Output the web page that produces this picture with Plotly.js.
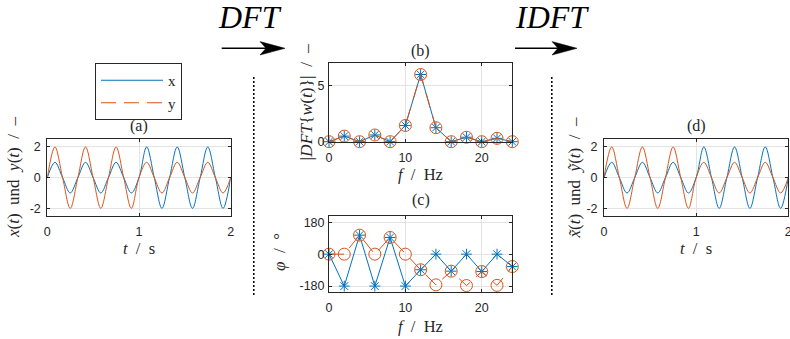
<!DOCTYPE html>
<html>
<head>
<meta charset="utf-8">
<script src="https://cdn.plot.ly/plotly-3.0.1.min.js"></script>
<style>
html,body{margin:0;padding:0;background:#ffffff;}
#chart{width:790px;height:339px;}
</style>
</head>
<body>
<div id="chart"></div>
<script>
// ---------- data ----------
// time samples (s) at quarter periods of the 3 Hz signals
const timeS = [0, 0.0833, 0.1667, 0.25, 0.3333, 0.4167, 0.5, 0.5833, 0.6667, 0.75, 0.8333, 0.9167,
               1, 1.0833, 1.1667, 1.25, 1.3333, 1.4167, 1.5, 1.5833, 1.6667, 1.75, 1.8333, 1.9167, 2];
const xSignal = [0, 1, 0, -1, 0, 1, 0, -1, 0, 1, 0, -1,
                 0, 2, 0, -2, 0, 2, 0, -2, 0, 2, 0, -2, 0];
const ySignal = [0, 2, 0, -2, 0, 2, 0, -2, 0, 2, 0, -2,
                 0, 1, 0, -1, 0, 1, 0, -1, 0, 1, 0, -1, 0];
// reconstructed signals (IDFT) - identical to the originals in the picture
const xTilde = [0, 1, 0, -1, 0, 1, 0, -1, 0, 1, 0, -1,
                0, 2, 0, -2, 0, 2, 0, -2, 0, 2, 0, -2, 0];
const yTilde = [0, 2, 0, -2, 0, 2, 0, -2, 0, 2, 0, -2,
                0, 1, 0, -1, 0, 1, 0, -1, 0, 1, 0, -1, 0];

const freqHz = [0, 2, 4, 6, 8, 10, 12, 14, 16, 18, 20, 22, 24];
const magX   = [0, 0.5, 0, 0.6, 0, 1.45, 6.0, 1.25, 0, 0.4, 0, 0.3, 0];
const magY   = [0, 0.5, 0, 0.6, 0, 1.45, 6.0, 1.25, 0, 0.4, 0, 0.3, 0];
const phaseX = [0, -180, 107, -180, 94, -180, -88, 0, -96, 0, -98, 0, -70];
const phaseY = [0, 0, 107, 0, 94, 0, -88, -173, -96, -177, -98, -176, -70];

const seriesNames = ['x', 'y'];
const timeTicks = [0, 1, 2];
const sigTickVals = [-2, 0, 2];
const sigTickText = ['-2', '0', '2'];
const freqTicks = [0, 10, 20];
const magTicks = [0, 5];
const phaseTickVals = [-180, 0, 180];
const phaseTickText = ['-180', '0', '180'];

// ---------- styling / layout ----------
const W = 790, H = 339;
const px = v => v / W;
const py = v => 1 - v / H;
const BLUE = '#0072BD', ORANGE = '#D95319';
const SERIF = 'Liberation Serif';
const SANS = 'Liberation Sans, Arial, sans-serif';
const NB = '\u00a0';

const box = {
  a: {x0: 47.3, x1: 230.7, y0: 139.3, y1: 216},
  b: {x0: 329, x1: 512.3, y0: 63.3, y1: 141.7},
  c: {x0: 329, x1: 512.3, y0: 216, y1: 292.3},
  d: {x0: 604, x1: 788.3, y0: 139.3, y1: 216}
};

function axisBase(extra) {
  return Object.assign({
    showline: true, mirror: 'ticks', linecolor: '#262626', linewidth: 1,
    showgrid: true, gridcolor: '#e3e3e3', gridwidth: 1,
    ticks: 'inside', ticklen: 3, tickcolor: '#262626', tickwidth: 1,
    zeroline: false, fixedrange: true, ticklabeloverflow: 'allow',
    tickfont: {family: SANS, size: 12.5, color: '#262626'}
  }, extra);
}
function xdom(b) { return [px(b.x0), px(b.x1)]; }
function ydom(b) { return [py(b.y1), py(b.y0)]; }

const traces = [
  // (a) original signals
  {x: timeS, y: xSignal, xaxis: 'x', yaxis: 'y', mode: 'lines', name: seriesNames[0],
   line: {color: BLUE, width: 1, shape: 'spline'}, showlegend: false},
  {x: timeS, y: ySignal, xaxis: 'x', yaxis: 'y', mode: 'lines', name: seriesNames[1],
   line: {color: ORANGE, width: 1, shape: 'spline'}, showlegend: false},
  // (b) magnitude
  {x: freqHz, y: magX, xaxis: 'x2', yaxis: 'y2', mode: 'lines', name: seriesNames[0],
   line: {color: BLUE, width: 1}, showlegend: true, legendrank: 1},
  {x: freqHz, y: magX, xaxis: 'x2', yaxis: 'y2', mode: 'markers', name: seriesNames[0],
   marker: {symbol: 'asterisk-open', size: 9, color: BLUE, line: {width: 1, color: BLUE}},
   showlegend: false, cliponaxis: false},
  {x: freqHz, y: magY, xaxis: 'x2', yaxis: 'y2', mode: 'lines', name: seriesNames[1],
   line: {color: ORANGE, width: 1, dash: '15px,8px'}, showlegend: true, legendrank: 2},
  {x: freqHz, y: magY, xaxis: 'x2', yaxis: 'y2', mode: 'markers', name: seriesNames[1],
   marker: {symbol: 'circle-open', size: 12, color: ORANGE, line: {width: 1, color: ORANGE}},
   showlegend: false, cliponaxis: false},
  // (c) phase
  {x: freqHz, y: phaseX, xaxis: 'x3', yaxis: 'y3', mode: 'lines+markers', name: seriesNames[0],
   line: {color: BLUE, width: 1},
   marker: {symbol: 'asterisk-open', size: 9, color: BLUE, line: {width: 1, color: BLUE}},
   showlegend: false, cliponaxis: false},
  {x: freqHz, y: phaseY, xaxis: 'x3', yaxis: 'y3', mode: 'lines+markers', name: seriesNames[1],
   line: {color: ORANGE, width: 1, dash: '15px,8px'},
   marker: {symbol: 'circle-open', size: 12, color: ORANGE, line: {width: 1, color: ORANGE}},
   showlegend: false, cliponaxis: false},
  // (d) reconstructed signals
  {x: timeS, y: xTilde, xaxis: 'x4', yaxis: 'y4', mode: 'lines', name: seriesNames[0],
   line: {color: BLUE, width: 1, shape: 'spline'}, showlegend: false},
  {x: timeS, y: yTilde, xaxis: 'x4', yaxis: 'y4', mode: 'lines', name: seriesNames[1],
   line: {color: ORANGE, width: 1, shape: 'spline'}, showlegend: false}
];

function ann(text, x, y, size, extra) {
  return Object.assign({
    text: text, xref: 'paper', yref: 'paper', x: px(x), y: py(y),
    xanchor: 'center', yanchor: 'middle', showarrow: false,
    font: {family: SERIF, size: size, color: '#262626'}
  }, extra || {});
}
const sp = NB + NB;
const annotations = [
  ann('(a)', 138.5, 126, 16),
  ann('(b)', 420.6, 51.5, 16),
  ann('(c)', 420.6, 200, 16),
  ann('(d)', 696, 126, 16),
  ann('<i>t</i>' + sp + '/' + sp + 's', 139, 248.5, 16.5),
  ann('<i>t</i>' + sp + '/' + sp + 's', 696, 248.5, 16.5),
  ann('<i>f</i>' + sp + '/' + sp + 'Hz', 420.6, 175, 16.5),
  ann('<i>f</i>' + sp + '/' + sp + 'Hz', 420.6, 326.5, 16.5),
  ann('<i>x</i>(<i>t</i>)' + sp + 'und' + sp + '<i>y</i>(<i>t</i>)' + sp + '/' + sp + '\u2013', 13, 178, 17, {textangle: -90}),
  ann('<i>x\u0303</i>(<i>t</i>)' + sp + 'und' + sp + '<i>y\u0303</i>(<i>t</i>)' + sp + '/' + sp + '\u2013', 573.5, 178, 17, {textangle: -90}),
  ann('|<i>DFT</i>{<i>w</i>(<i>t</i>)}|' + sp + '/' + sp + '\u2013', 305, 102.5, 17.5, {textangle: -90}),
  ann('<i>\u03c6</i>' + sp + '/' + sp + '\u00b0', 279, 252, 17, {textangle: -90}),
  ann('<i>DFT</i>', 249.5, 17, 32, {font: {family: SERIF, size: 32, color: '#000000'}}),
  ann('<i>IDFT</i>', 551.5, 17, 32, {font: {family: SERIF, size: 32, color: '#000000'}})
];

function arrowShapes(x0, x1, y) {
  const L = 25, hw = 6.7, notch = 6;
  const tipX = px(x1), tipY = py(y);
  const backX = px(x1 - L), notchX = px(x1 - L + notch);
  return [
    {type: 'line', xref: 'paper', yref: 'paper', x0: px(x0), x1: px(x1 - L + notch + 1), y0: tipY, y1: tipY,
     line: {color: '#000000', width: 1.6}},
    {type: 'path', xref: 'paper', yref: 'paper',
     path: 'M' + tipX + ',' + tipY + ' L' + backX + ',' + py(y - hw) + ' L' + notchX + ',' + tipY +
           ' L' + backX + ',' + py(y + hw) + ' Z',
     fillcolor: '#000000', line: {color: '#000000', width: 0.5}}
  ];
}
const shapes = [].concat(
  arrowShapes(221.7, 285, 48.3),
  arrowShapes(515, 577, 48.3),
  [
    {type: 'line', xref: 'paper', yref: 'paper', x0: px(253.8), x1: px(253.8), y0: py(77), y1: py(296),
     line: {color: '#000000', width: 1.5, dash: '2px,2px'}},
    {type: 'line', xref: 'paper', yref: 'paper', x0: px(551.8), x1: px(551.8), y0: py(77), y1: py(296),
     line: {color: '#000000', width: 1.5, dash: '2px,2px'}}
  ]
);

const layout = {
  width: W, height: H, autosize: false,
  margin: {l: 0, r: 0, t: 0, b: 0, pad: 0},
  paper_bgcolor: '#ffffff', plot_bgcolor: '#ffffff',
  showlegend: true,
  legend: {
    x: px(95), y: py(63), xanchor: 'left', yanchor: 'top',
    bgcolor: '#ffffff', bordercolor: '#262626', borderwidth: 1,
    font: {family: SERIF, size: 15, color: '#262626'},
    itemwidth: 62, tracegroupgap: 0, traceorder: 'normal'
  },
  xaxis: axisBase({domain: xdom(box.a), anchor: 'y', range: [0, 2], tickmode: 'array', tickvals: timeTicks, ticklabelstandoff: 4}),
  yaxis: axisBase({domain: ydom(box.a), anchor: 'x', range: [-2.5, 2.5], tickmode: 'array', tickvals: sigTickVals, ticktext: sigTickText, ticklabelstandoff: 3}),
  xaxis2: axisBase({domain: xdom(box.b), anchor: 'y2', range: [0, 24], tickmode: 'array', tickvals: freqTicks, ticklabelstandoff: 4}),
  yaxis2: axisBase({domain: ydom(box.b), anchor: 'x2', range: [0, 7], tickmode: 'array', tickvals: magTicks, ticklabelstandoff: 1}),
  xaxis3: axisBase({domain: xdom(box.c), anchor: 'y3', range: [0, 24], tickmode: 'array', tickvals: freqTicks, ticklabelstandoff: 4}),
  yaxis3: axisBase({domain: ydom(box.c), anchor: 'x3', range: [-215, 215], tickmode: 'array', tickvals: phaseTickVals, ticktext: phaseTickText, ticklabelstandoff: 1}),
  xaxis4: axisBase({domain: xdom(box.d), anchor: 'y4', range: [0, 2], tickmode: 'array', tickvals: timeTicks, ticklabelstandoff: 4}),
  yaxis4: axisBase({domain: ydom(box.d), anchor: 'x4', range: [-2.5, 2.5], tickmode: 'array', tickvals: sigTickVals, ticktext: sigTickText, ticklabelstandoff: 3}),
  annotations: annotations,
  shapes: shapes
};

Plotly.newPlot('chart', traces, layout, {displayModeBar: false, staticPlot: true});
</script>
</body>
</html>
